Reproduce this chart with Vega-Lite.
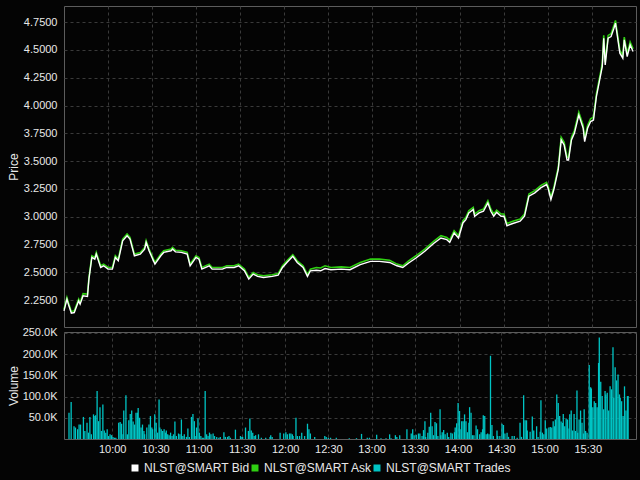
{
  "$schema": "https://vega.github.io/schema/vega-lite/v6.json",
  "background": "#040404",
  "padding": {"left": 6, "top": 5, "right": 5, "bottom": 6},
  "spacing": 5,
  "bounds": "flush",
  "config": {
    "font": "Liberation Sans",
    "view": {"stroke": "#5c5c5c", "strokeWidth": 1, "fill": "#040404"},
    "axis": {"labelColor": "#e8e8e8", "labelFontSize": 11, "titleColor": "#e8e8e8", "titleFontSize": 12, "titleFontWeight": "normal", "domain": false, "ticks": false, "gridColor": "#3a3a3a", "gridDash": [3, 3], "gridWidth": 1, "labelOverlap": false}
  },
  "vconcat": [
    {
      "width": 572,
      "height": 321,
      "data": {
        "format": {"parse": {"t": "date:'%H:%M'"}},
        "values": [
          {"t":"09:30","bid":2.155,"ask":2.17},{"t":"09:32","bid":2.26,"ask":2.275},{"t":"09:33","bid":2.215,"ask":2.23},{"t":"09:35","bid":2.135,"ask":2.15},{"t":"09:37","bid":2.14,"ask":2.155},{"t":"09:40","bid":2.245,"ask":2.26},{"t":"09:41","bid":2.215,"ask":2.23},{"t":"09:43","bid":2.29,"ask":2.31},{"t":"09:46","bid":2.285,"ask":2.305},{"t":"09:47","bid":2.44,"ask":2.455},{"t":"09:49","bid":2.635,"ask":2.65},{"t":"09:51","bid":2.62,"ask":2.635},{"t":"09:52","bid":2.665,"ask":2.68},{"t":"09:55","bid":2.545,"ask":2.56},{"t":"09:57","bid":2.56,"ask":2.575},
          {"t":"10:00","bid":2.53,"ask":2.545},{"t":"10:03","bid":2.53,"ask":2.545},{"t":"10:05","bid":2.635,"ask":2.65},{"t":"10:07","bid":2.605,"ask":2.62},{"t":"10:10","bid":2.785,"ask":2.8},{"t":"10:13","bid":2.83,"ask":2.845},{"t":"10:15","bid":2.8,"ask":2.815},{"t":"10:18","bid":2.65,"ask":2.665},{"t":"10:22","bid":2.665,"ask":2.68},{"t":"10:25","bid":2.71,"ask":2.725},{"t":"10:26","bid":2.77,"ask":2.785},{"t":"10:28","bid":2.695,"ask":2.71},{"t":"10:30","bid":2.635,"ask":2.65},{"t":"10:32","bid":2.575,"ask":2.59},{"t":"10:36","bid":2.65,"ask":2.665},{"t":"10:38","bid":2.68,"ask":2.695},{"t":"10:43","bid":2.695,"ask":2.71},{"t":"10:44","bid":2.71,"ask":2.725},{"t":"10:46","bid":2.685,"ask":2.7},{"t":"10:50","bid":2.68,"ask":2.695},{"t":"10:54","bid":2.665,"ask":2.68},{"t":"10:56","bid":2.56,"ask":2.575},
          {"t":"11:00","bid":2.635,"ask":2.65},{"t":"11:02","bid":2.62,"ask":2.635},{"t":"11:04","bid":2.53,"ask":2.545},{"t":"11:09","bid":2.56,"ask":2.575},{"t":"11:11","bid":2.53,"ask":2.545},{"t":"11:18","bid":2.53,"ask":2.545},{"t":"11:21","bid":2.545,"ask":2.56},{"t":"11:26","bid":2.545,"ask":2.56},{"t":"11:29","bid":2.56,"ask":2.575},{"t":"11:33","bid":2.515,"ask":2.53},{"t":"11:36","bid":2.44,"ask":2.455},{"t":"11:39","bid":2.485,"ask":2.5},{"t":"11:42","bid":2.465,"ask":2.48},{"t":"11:46","bid":2.455,"ask":2.47},{"t":"11:52","bid":2.465,"ask":2.48},{"t":"11:56","bid":2.475,"ask":2.49},{"t":"11:59","bid":2.545,"ask":2.56},
          {"t":"12:02","bid":2.59,"ask":2.605},{"t":"12:06","bid":2.645,"ask":2.66},{"t":"12:09","bid":2.59,"ask":2.605},{"t":"12:13","bid":2.545,"ask":2.56},{"t":"12:16","bid":2.465,"ask":2.48},{"t":"12:18","bid":2.515,"ask":2.53},{"t":"12:22","bid":2.52,"ask":2.545},{"t":"12:25","bid":2.515,"ask":2.54},{"t":"12:28","bid":2.535,"ask":2.56},{"t":"12:32","bid":2.525,"ask":2.545},{"t":"12:39","bid":2.53,"ask":2.55},{"t":"12:45","bid":2.525,"ask":2.545},{"t":"12:52","bid":2.57,"ask":2.59},{"t":"12:59","bid":2.6,"ask":2.62},
          {"t":"13:05","bid":2.6,"ask":2.62},{"t":"13:12","bid":2.59,"ask":2.61},{"t":"13:17","bid":2.56,"ask":2.575},{"t":"13:21","bid":2.545,"ask":2.56},{"t":"13:25","bid":2.585,"ask":2.605},{"t":"13:30","bid":2.63,"ask":2.65},{"t":"13:36","bid":2.69,"ask":2.71},{"t":"13:42","bid":2.76,"ask":2.78},{"t":"13:47","bid":2.81,"ask":2.83},{"t":"13:51","bid":2.795,"ask":2.815},{"t":"13:53","bid":2.77,"ask":2.79},{"t":"13:56","bid":2.855,"ask":2.875},{"t":"13:59","bid":2.81,"ask":2.83},
          {"t":"14:02","bid":2.945,"ask":2.965},{"t":"14:04","bid":2.975,"ask":2.995},{"t":"14:06","bid":3.035,"ask":3.055},{"t":"14:09","bid":3.065,"ask":3.085},{"t":"14:10","bid":3.005,"ask":3.025},{"t":"14:13","bid":3.035,"ask":3.055},{"t":"14:16","bid":3.05,"ask":3.07},{"t":"14:19","bid":3.125,"ask":3.145},{"t":"14:21","bid":3.05,"ask":3.07},{"t":"14:23","bid":3.005,"ask":3.025},{"t":"14:25","bid":3.04,"ask":3.06},{"t":"14:28","bid":3.005,"ask":3.025},{"t":"14:30","bid":3.005,"ask":3.025},{"t":"14:32","bid":2.92,"ask":2.94},{"t":"14:36","bid":2.94,"ask":2.96},{"t":"14:41","bid":2.96,"ask":2.98},{"t":"14:44","bid":3.005,"ask":3.025},{"t":"14:47","bid":3.185,"ask":3.205},{"t":"14:51","bid":3.215,"ask":3.235},{"t":"14:55","bid":3.26,"ask":3.28},{"t":"14:59","bid":3.29,"ask":3.31},
          {"t":"15:00","bid":3.26,"ask":3.28},{"t":"15:02","bid":3.155,"ask":3.175},{"t":"15:04","bid":3.245,"ask":3.265},{"t":"15:07","bid":3.425,"ask":3.445},{"t":"15:09","bid":3.69,"ask":3.715},{"t":"15:11","bid":3.645,"ask":3.67},{"t":"15:13","bid":3.51,"ask":3.535},{"t":"15:14","bid":3.51,"ask":3.535},{"t":"15:16","bid":3.69,"ask":3.715},{"t":"15:18","bid":3.75,"ask":3.775},{"t":"15:21","bid":3.915,"ask":3.94},{"t":"15:24","bid":3.795,"ask":3.82},{"t":"15:25","bid":3.675,"ask":3.7},{"t":"15:27","bid":3.795,"ask":3.82},{"t":"15:29","bid":3.855,"ask":3.88},{"t":"15:31","bid":3.87,"ask":3.895},{"t":"15:33","bid":4.08,"ask":4.105},{"t":"15:35","bid":4.215,"ask":4.24},{"t":"15:37","bid":4.35,"ask":4.375},{"t":"15:38","bid":4.605,"ask":4.63},{"t":"15:39","bid":4.365,"ask":4.39},{"t":"15:41","bid":4.605,"ask":4.63},{"t":"15:43","bid":4.62,"ask":4.645},{"t":"15:45","bid":4.695,"ask":4.72},{"t":"15:46","bid":4.74,"ask":4.765},{"t":"15:47","bid":4.65,"ask":4.675},{"t":"15:49","bid":4.47,"ask":4.495},{"t":"15:51","bid":4.425,"ask":4.45},{"t":"15:52","bid":4.59,"ask":4.615},{"t":"15:54","bid":4.44,"ask":4.465},{"t":"15:56","bid":4.545,"ask":4.57},{"t":"15:58","bid":4.485,"ask":4.51}
        ]
      },
      "encoding": {
        "x": {
          "field": "t", "type": "temporal",
          "scale": {"domain": [{"year":1900,"month":1,"date":1,"hours":9,"minutes":30},{"year":1900,"month":1,"date":1,"hours":16,"minutes":0}]},
          "axis": {"title": null, "labels": false, "grid": true, "labelPadding": 0, "minExtent": 0, "maxExtent": 0, "tickCount": 20,
            "values": [{"year":1900,"month":1,"date":1,"hours":10,"minutes":0},{"year":1900,"month":1,"date":1,"hours":10,"minutes":30},{"year":1900,"month":1,"date":1,"hours":11,"minutes":0},{"year":1900,"month":1,"date":1,"hours":11,"minutes":30},{"year":1900,"month":1,"date":1,"hours":12,"minutes":0},{"year":1900,"month":1,"date":1,"hours":12,"minutes":30},{"year":1900,"month":1,"date":1,"hours":13,"minutes":0},{"year":1900,"month":1,"date":1,"hours":13,"minutes":30},{"year":1900,"month":1,"date":1,"hours":14,"minutes":0},{"year":1900,"month":1,"date":1,"hours":14,"minutes":30},{"year":1900,"month":1,"date":1,"hours":15,"minutes":0},{"year":1900,"month":1,"date":1,"hours":15,"minutes":30}]}
        }
      },
      "layer": [
        {
          "mark": {"type": "line", "strokeWidth": 1.6, "interpolate": "linear"},
          "encoding": {
            "y": {"field": "ask", "type": "quantitative",
              "scale": {"domain": [2.01, 4.894], "nice": false, "zero": false},
              "axis": {"title": "Price", "values": [2.25, 2.5, 2.75, 3, 3.25, 3.5, 3.75, 4, 4.25, 4.5, 4.75], "tickCount": 20, "format": ".4f", "labelOverlap": false, "labelPadding": 7, "titleX": -51, "titleY": 160.5, "titleBaseline": "middle", "titleAngle": -90}},
            "color": {"datum": "NLST@SMART Ask", "type": "nominal",
              "scale": {"domain": ["NLST@SMART Bid", "NLST@SMART Ask", "NLST@SMART Trades"], "range": ["#ffffff", "#2fcf12", "#00c4c4"]},
              "legend": {"title": null, "orient": "none", "legendX": 65, "legendY": 456, "direction": "horizontal", "gridAlign": "none", "symbolType": "square", "symbolSize": 30, "labelColor": "#e8e8e8", "labelFontSize": 12, "columnPadding": -1, "labelOffset": 3, "padding": 0,
                "encode": {"symbols": {"update": {"fill": {"scale": "color", "field": "value"}, "stroke": {"value": "transparent"}, "shape": {"value": "square"}}}}}}
          }
        },
        {
          "mark": {"type": "line", "strokeWidth": 1.4, "interpolate": "linear"},
          "encoding": {
            "y": {"field": "bid", "type": "quantitative"},
            "color": {"datum": "NLST@SMART Bid", "type": "nominal"}
          }
        }
      ]
    },
    {
      "width": 572,
      "height": 107,
      "data": {
        "format": {"parse": {"t": "date:'%H:%M:%S'"}},
        "values": [
          {"t":"09:30:00","v":62000},{"t":"09:31:30","v":87000},{"t":"09:33:30","v":30000},{"t":"09:34:30","v":27000},{"t":"09:36:00","v":23000},{"t":"09:37:00","v":34000},{"t":"09:38:00","v":34000},{"t":"09:40:00","v":52000},{"t":"09:41:00","v":19000},{"t":"09:42:30","v":38000},{"t":"09:43:30","v":15000},{"t":"09:44:30","v":52000},{"t":"09:45:30","v":11000},{"t":"09:47:00","v":58000},{"t":"09:48:00","v":54000},{"t":"09:48:30","v":56000},{"t":"09:49:30","v":113000},{"t":"09:50:30","v":42000},{"t":"09:51:30","v":75000},{"t":"09:52:30","v":19000},{"t":"09:53:30","v":81000},{"t":"09:54:30","v":20000},{"t":"09:55:30","v":15000},{"t":"09:56:30","v":23000},{"t":"09:57:30","v":7000},{"t":"09:58:30","v":11000},{"t":"09:59:30","v":9000},
          {"t":"10:00:30","v":5000},{"t":"10:01:30","v":3000},{"t":"10:02:30","v":3000},{"t":"10:04:30","v":38000},{"t":"10:05:30","v":40000},{"t":"10:06:30","v":36000},{"t":"10:07:30","v":11000},{"t":"10:08:00","v":67000},{"t":"10:09:30","v":103000},{"t":"10:10:30","v":11000},{"t":"10:11:30","v":44000},{"t":"10:12:30","v":59000},{"t":"10:13:30","v":67000},{"t":"10:14:30","v":41000},{"t":"10:15:30","v":34000},{"t":"10:16:30","v":62000},{"t":"10:17:30","v":62000},{"t":"10:18:00","v":73000},{"t":"10:19:00","v":50000},{"t":"10:20:00","v":27000},{"t":"10:21:00","v":34000},{"t":"10:22:00","v":19000},{"t":"10:22:30","v":11000},{"t":"10:24:00","v":27000},{"t":"10:25:30","v":34000},{"t":"10:26:30","v":54000},{"t":"10:27:30","v":27000},{"t":"10:28:00","v":23000},{"t":"10:29:30","v":58000},
          {"t":"10:30:30","v":38000},{"t":"10:31:30","v":15000},{"t":"10:32:30","v":93000},{"t":"10:33:00","v":27000},{"t":"10:34:00","v":23000},{"t":"10:35:00","v":19000},{"t":"10:36:00","v":23000},{"t":"10:37:00","v":15000},{"t":"10:37:30","v":20000},{"t":"10:38:30","v":11000},{"t":"10:39:30","v":9000},{"t":"10:40:30","v":15000},{"t":"10:41:30","v":7000},{"t":"10:42:30","v":11000},{"t":"10:43:30","v":41000},{"t":"10:44:30","v":7000},{"t":"10:46:00","v":13000},{"t":"10:47:00","v":11000},{"t":"10:48:00","v":46000},{"t":"10:49:00","v":7000},{"t":"10:50:00","v":11000},{"t":"10:51:30","v":5000},{"t":"10:52:30","v":25000},{"t":"10:53:30","v":5000},{"t":"10:55:00","v":52000},{"t":"10:56:00","v":59000},{"t":"10:57:00","v":42000},{"t":"10:57:30","v":7000},{"t":"10:58:30","v":27000},{"t":"10:59:30","v":48000},
          {"t":"11:00:30","v":15000},{"t":"11:01:30","v":7000},{"t":"11:02:30","v":3000},{"t":"11:03:30","v":3000},{"t":"11:04:30","v":113000},{"t":"11:05:30","v":11000},{"t":"11:06:30","v":7000},{"t":"11:07:30","v":15000},{"t":"11:08:30","v":11000},{"t":"11:10:00","v":13000},{"t":"11:11:00","v":7000},{"t":"11:12:30","v":5000},{"t":"11:14:00","v":3000},{"t":"11:15:00","v":5000},{"t":"11:17:30","v":16000},{"t":"11:18:30","v":5000},{"t":"11:20:00","v":5000},{"t":"11:21:00","v":7000},{"t":"11:22:00","v":3000},{"t":"11:25:30","v":22000},{"t":"11:29:00","v":7000},
          {"t":"11:30:00","v":5000},{"t":"11:30:30","v":5000},{"t":"11:32:30","v":27000},{"t":"11:34:30","v":19000},{"t":"11:35:30","v":48000},{"t":"11:36:30","v":20000},{"t":"11:37:30","v":15000},{"t":"11:38:30","v":7000},{"t":"11:39:30","v":9000},{"t":"11:41:30","v":11000},{"t":"11:43:30","v":3000},{"t":"11:46:30","v":3000},{"t":"11:49:30","v":5000},{"t":"11:50:00","v":9000},{"t":"11:51:00","v":5000},{"t":"11:56:30","v":15000},{"t":"11:59:00","v":13000},
          {"t":"12:00:30","v":16000},{"t":"12:01:30","v":11000},{"t":"12:03:00","v":13000},{"t":"12:04:00","v":13000},{"t":"12:05:00","v":11000},{"t":"12:05:30","v":7000},{"t":"12:07:30","v":50000},{"t":"12:08:30","v":7000},{"t":"12:10:00","v":7000},{"t":"12:11:30","v":15000},{"t":"12:13:30","v":7000},{"t":"12:15:30","v":36000},{"t":"12:16:30","v":23000},{"t":"12:17:30","v":13000},{"t":"12:20:30","v":5000},{"t":"12:27:30","v":7000},{"t":"12:28:30","v":5000},
          {"t":"12:30:00","v":3000},{"t":"12:31:30","v":3000},{"t":"12:35:30","v":3000},{"t":"12:44:30","v":2000},{"t":"12:49:30","v":2000},{"t":"12:53:00","v":12000},{"t":"12:57:00","v":3000},{"t":"12:58:30","v":3000},{"t":"13:03:30","v":10000},{"t":"13:06:30","v":2000},{"t":"13:10:00","v":2000},{"t":"13:12:30","v":11000},{"t":"13:13:30","v":2000},{"t":"13:16:30","v":9000},{"t":"13:17:30","v":5000},{"t":"13:19:30","v":9000},{"t":"13:24:30","v":23000},{"t":"13:27:30","v":13000},{"t":"13:28:30","v":23000},{"t":"13:29:30","v":9000},
          {"t":"13:31:00","v":10000},{"t":"13:32:30","v":13000},{"t":"13:33:30","v":13000},{"t":"13:35:00","v":7000},{"t":"13:36:00","v":21000},{"t":"13:37:00","v":42000},{"t":"13:37:30","v":5000},{"t":"13:39:00","v":15000},{"t":"13:40:00","v":29000},{"t":"13:41:00","v":62000},{"t":"13:42:00","v":30000},{"t":"13:43:00","v":9000},{"t":"13:44:00","v":40000},{"t":"13:45:00","v":37000},{"t":"13:46:00","v":7000},{"t":"13:47:30","v":70000},{"t":"13:48:00","v":9000},{"t":"13:49:00","v":16000},{"t":"13:50:00","v":21000},{"t":"13:51:00","v":11000},{"t":"13:52:30","v":15000},{"t":"13:53:30","v":5000},{"t":"13:55:00","v":15000},{"t":"13:56:00","v":13000},{"t":"13:57:30","v":16000},{"t":"13:58:00","v":27000},{"t":"13:59:00","v":37000},
          {"t":"14:00:00","v":85000},{"t":"14:01:00","v":66000},{"t":"14:02:00","v":23000},{"t":"14:02:30","v":42000},{"t":"14:03:30","v":42000},{"t":"14:04:30","v":58000},{"t":"14:05:30","v":42000},{"t":"14:06:30","v":16000},{"t":"14:07:30","v":38000},{"t":"14:08:00","v":75000},{"t":"14:09:00","v":62000},{"t":"14:10:00","v":9000},{"t":"14:11:00","v":9000},{"t":"14:12:30","v":32000},{"t":"14:13:30","v":23000},{"t":"14:15:00","v":11000},{"t":"14:16:00","v":16000},{"t":"14:17:00","v":23000},{"t":"14:17:30","v":56000},{"t":"14:18:30","v":54000},{"t":"14:19:30","v":11000},{"t":"14:20:30","v":13000},{"t":"14:21:30","v":11000},{"t":"14:22:30","v":196000},{"t":"14:23:30","v":33000},{"t":"14:24:30","v":7000},{"t":"14:27:00","v":20000},{"t":"14:27:30","v":7000},{"t":"14:29:00","v":7000},
          {"t":"14:30:30","v":36000},{"t":"14:31:30","v":33000},{"t":"14:32:30","v":13000},{"t":"14:34:00","v":15000},{"t":"14:35:00","v":5000},{"t":"14:37:30","v":7000},{"t":"14:39:00","v":7000},{"t":"14:41:00","v":3000},{"t":"14:43:00","v":38000},{"t":"14:44:00","v":5000},{"t":"14:45:30","v":103000},{"t":"14:46:30","v":44000},{"t":"14:47:30","v":44000},{"t":"14:48:00","v":20000},{"t":"14:50:00","v":17000},{"t":"14:51:30","v":53000},{"t":"14:52:30","v":20000},{"t":"14:54:30","v":30000},{"t":"14:55:30","v":5000},{"t":"14:57:00","v":17000},{"t":"14:57:30","v":91000},{"t":"14:58:30","v":15000},{"t":"14:59:30","v":11000},
          {"t":"15:00:30","v":44000},{"t":"15:01:30","v":25000},{"t":"15:03:00","v":27000},{"t":"15:04:00","v":28000},{"t":"15:05:00","v":27000},{"t":"15:06:00","v":42000},{"t":"15:07:00","v":30000},{"t":"15:07:30","v":46000},{"t":"15:08:30","v":105000},{"t":"15:09:30","v":85000},{"t":"15:10:30","v":54000},{"t":"15:11:30","v":41000},{"t":"15:12:30","v":38000},{"t":"15:13:00","v":59000},{"t":"15:14:00","v":30000},{"t":"15:15:00","v":48000},{"t":"15:16:00","v":46000},{"t":"15:17:00","v":25000},{"t":"15:17:30","v":58000},{"t":"15:18:30","v":67000},{"t":"15:19:30","v":20000},{"t":"15:20:30","v":59000},{"t":"15:21:30","v":19000},{"t":"15:22:30","v":114000},{"t":"15:23:00","v":15000},{"t":"15:24:00","v":46000},{"t":"15:25:00","v":67000},{"t":"15:26:00","v":38000},{"t":"15:27:00","v":13000},{"t":"15:27:30","v":70000},{"t":"15:28:30","v":19000},{"t":"15:29:30","v":15000},
          {"t":"15:31:00","v":174000},{"t":"15:32:00","v":122000},{"t":"15:32:30","v":119000},{"t":"15:33:30","v":75000},{"t":"15:34:30","v":89000},{"t":"15:35:30","v":85000},{"t":"15:36:30","v":75000},{"t":"15:37:30","v":179000},{"t":"15:38:00","v":239000},{"t":"15:39:00","v":135000},{"t":"15:40:00","v":101000},{"t":"15:41:00","v":70000},{"t":"15:42:00","v":113000},{"t":"15:42:30","v":105000},{"t":"15:43:30","v":109000},{"t":"15:44:30","v":67000},{"t":"15:45:30","v":124000},{"t":"15:46:30","v":117000},{"t":"15:47:30","v":216000},{"t":"15:48:00","v":97000},{"t":"15:49:00","v":169000},{"t":"15:50:00","v":138000},{"t":"15:51:00","v":152000},{"t":"15:52:00","v":105000},{"t":"15:52:30","v":97000},{"t":"15:53:30","v":89000},{"t":"15:54:30","v":54000},{"t":"15:55:30","v":124000},{"t":"15:56:30","v":67000},{"t":"15:57:30","v":101000},{"t":"15:58:00","v":101000}
        ]
      },
      "mark": {"type": "bar", "size": 1.3},
      "encoding": {
        "x": {
          "field": "t", "type": "temporal",
          "scale": {"domain": [{"year":1900,"month":1,"date":1,"hours":9,"minutes":30},{"year":1900,"month":1,"date":1,"hours":16,"minutes":0}]},
          "axis": {"title": null, "format": "%H:%M", "labelPadding": 4, "grid": true, "labelFlush": false, "labelAlign": "center", "tickCount": 20,
            "values": [{"year":1900,"month":1,"date":1,"hours":10,"minutes":0},{"year":1900,"month":1,"date":1,"hours":10,"minutes":30},{"year":1900,"month":1,"date":1,"hours":11,"minutes":0},{"year":1900,"month":1,"date":1,"hours":11,"minutes":30},{"year":1900,"month":1,"date":1,"hours":12,"minutes":0},{"year":1900,"month":1,"date":1,"hours":12,"minutes":30},{"year":1900,"month":1,"date":1,"hours":13,"minutes":0},{"year":1900,"month":1,"date":1,"hours":13,"minutes":30},{"year":1900,"month":1,"date":1,"hours":14,"minutes":0},{"year":1900,"month":1,"date":1,"hours":14,"minutes":30},{"year":1900,"month":1,"date":1,"hours":15,"minutes":0},{"year":1900,"month":1,"date":1,"hours":15,"minutes":30}]}
        },
        "y": {"field": "v", "type": "quantitative",
          "scale": {"domain": [0, 252000], "nice": false},
          "axis": {"title": "Volume", "values": [50000, 100000, 150000, 200000, 250000], "tickCount": 20, "labelExpr": "format(datum.value / 1000, '.1f') + 'K'", "labelPadding": 7, "titleX": -51, "titleY": 53.5, "titleBaseline": "middle", "titleAngle": -90}},
        "color": {"datum": "NLST@SMART Trades", "type": "nominal"}
      }
    }
  ]
}
